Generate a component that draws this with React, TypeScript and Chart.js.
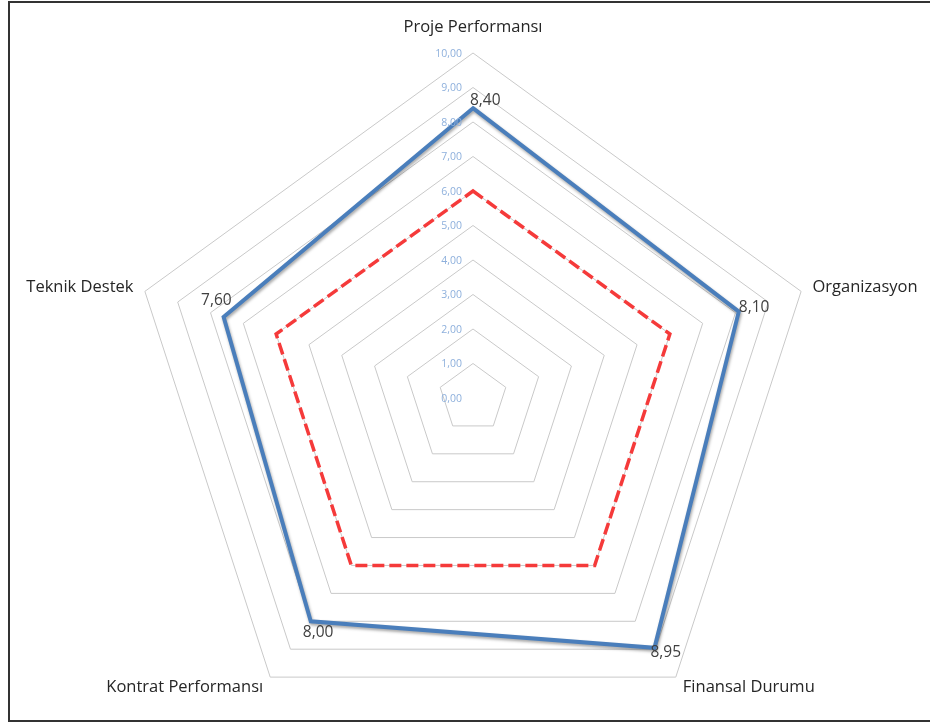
import React, { useEffect, useRef } from "react";
import { Chart, registerables } from "chart.js";

Chart.register(...registerables);

const categories = [
  "Proje Performansı",
  "Organizasyon",
  "Finansal Durumu",
  "Kontrat Performansı",
  "Teknik Destek",
];
const actualValues = [8.4, 8.1, 8.95, 8.0, 7.6];
const targetValues = [6, 6, 6, 6, 6];
const tickValues = [0, 1, 2, 3, 4, 5, 6, 7, 8, 9, 10];

const fmt = (v: number) => v.toFixed(2).replace(".", ",");

const FONT = "'Open Sans', 'Noto Sans', sans-serif";

const labelsPlugin = {
  id: "customLabels",
  beforeDatasetDraw(chart: any, args: any) {
    if (args.index === 0) {
      const ctx = chart.ctx;
      ctx.save();
      ctx.shadowColor = "rgba(0,0,0,0.35)";
      ctx.shadowBlur = 3;
      ctx.shadowOffsetX = 1;
      ctx.shadowOffsetY = 2;
    }
  },
  afterDatasetDraw(chart: any, args: any) {
    if (args.index === 0) chart.ctx.restore();
  },
  afterDraw(chart: any) {
    const ctx = chart.ctx;
    const scale = chart.scales.r;
    ctx.save();
    // tick labels
    ctx.font = `10.5px ${FONT}`;
    ctx.fillStyle = "#8eb0dc";
    ctx.textAlign = "right";
    ctx.textBaseline = "middle";
    tickValues.forEach((v) => {
      const y = scale.yCenter - scale.getDistanceFromCenterForValue(v);
      ctx.fillText(fmt(v), scale.xCenter - 11, y + 1);
    });
    // point labels
    ctx.font = `16.5px ${FONT}`;
    ctx.fillStyle = "#262626";
    categories.forEach((c, i) => {
      const ang = scale.getIndexAngle(i);
      const s = Math.sin(ang);
      const pad = Math.abs(s) < 0.1 ? 18 : 12;
      const p = scale.getPointPosition(i, scale.drawingArea + pad);
      ctx.textAlign = s > 0.1 ? "left" : s < -0.1 ? "right" : "center";
      ctx.textBaseline = "middle";
      ctx.fillText(c, p.x, Math.abs(s) < 0.1 ? p.y - 8 : p.y);
    });
    // data labels
    const meta = chart.getDatasetMeta(0);
    ctx.font = `15.5px ${FONT}`;
    ctx.fillStyle = "#404040";
    const offs: [string, number, number][] = [
      ["left", -3, -8],
      ["left", 0, -4],
      ["left", -4, 5],
      ["left", -8, 11],
      ["right", 8, -16],
    ];
    meta.data.forEach((pt: any, i: number) => {
      const [al, dx, dy] = offs[i];
      ctx.textAlign = al;
      ctx.textBaseline = "middle";
      ctx.fillText(fmt(actualValues[i]), pt.x + dx, pt.y + dy);
    });
    ctx.restore();
  },
};

export default function App() {
  const ref = useRef<HTMLCanvasElement | null>(null);
  useEffect(() => {
    if (!ref.current) return;
    const chart = new Chart(ref.current, {
      type: "radar",
      data: {
        labels: categories,
        datasets: [
          {
            data: actualValues,
            borderColor: "#4a7ebb",
            borderWidth: 4,
            backgroundColor: "transparent",
            fill: false,
            pointRadius: 0,
            pointHoverRadius: 0,
          },
          {
            data: targetValues,
            borderColor: "#f53a3a",
            borderWidth: 3.5,
            borderDash: [12, 5],
            backgroundColor: "transparent",
            fill: false,
            pointRadius: 0,
            pointHoverRadius: 0,
          },
        ],
      },
      options: {
        responsive: false,
        animation: false,
        layout: { padding: { left: 128, right: 112, top: 53, bottom: 57 } },
        plugins: { legend: { display: false }, tooltip: { enabled: false } },
        scales: {
          r: {
            min: 0,
            max: 10,
            ticks: { stepSize: 1, display: false },
            grid: { color: "#c9c9c9", lineWidth: 1 },
            angleLines: { display: false },
            pointLabels: { display: false },
          },
        },
        elements: { line: { tension: 0 } },
      },
      plugins: [labelsPlugin],
    });
    return () => chart.destroy();
  }, []);

  return (
    <div
      style={{
        position: "absolute",
        left: 0,
        top: 0,
        width: 930,
        height: 722,
        overflow: "hidden",
        background: "#fff",
      }}
    >
      <div
        style={{
          position: "absolute",
          left: 8,
          top: 1,
          width: 960,
          height: 721,
          boxSizing: "border-box",
          borderTop: "2px solid #333",
          borderLeft: "2px solid #333",
          borderBottom: "2px solid #333",
        }}
      />
      <canvas
        ref={ref}
        width={930}
        height={800}
        style={{ position: "absolute", left: 0, top: 0, width: 930, height: 800 }}
      />
    </div>
  );
}
